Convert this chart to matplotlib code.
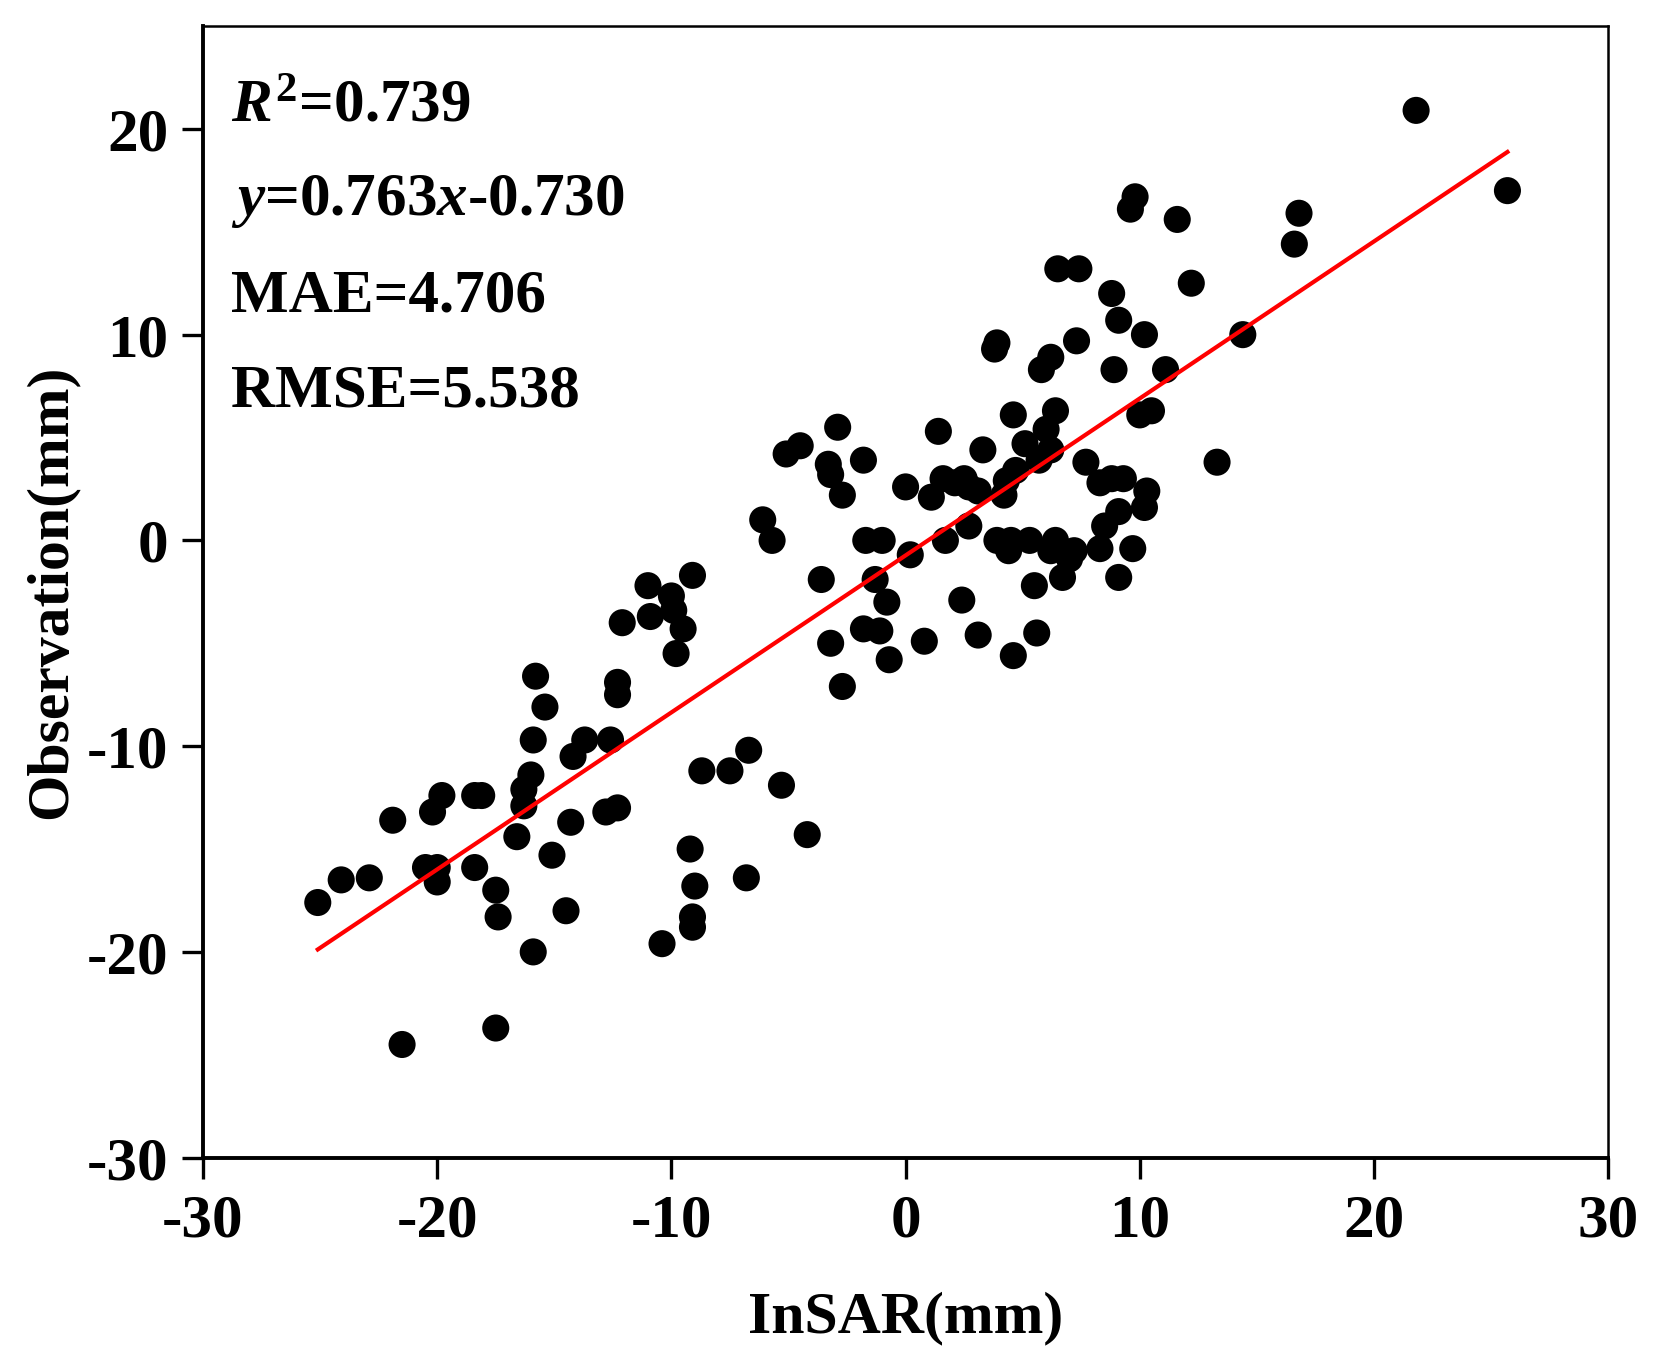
import matplotlib

matplotlib.use("Agg")
import matplotlib.pyplot as plt
import numpy as np

plt.rcParams["font.family"] = ["Liberation Serif", "DejaVu Serif"]
plt.rcParams["font.weight"] = "bold"
plt.rcParams["axes.unicode_minus"] = False
plt.rcParams["mathtext.fontset"] = "custom"
plt.rcParams["mathtext.rm"] = "Liberation Serif:bold"
plt.rcParams["mathtext.it"] = "Liberation Serif:italic:bold"
plt.rcParams["mathtext.bf"] = "Liberation Serif:bold"

insar = [
    -25.1, -24.1, -22.9, -21.9, -21.5, -20.5, -20.2, -19.8, -20.0, -20.0,
    -18.4, -18.1, -18.4, -17.5, -17.4, -17.5, -16.6, -16.3, -16.3, -16.0,
    -15.9, -15.8, -15.9, -15.4, -15.1, -14.5, -14.3, -14.2, -13.7, -12.8,
    -12.6, -12.3, -12.3, -12.3, -12.1, -11.0, -10.9, -10.4, -10.0, -9.9,
    -9.8, -9.5, -9.1, -9.2, -9.0, -9.1, -9.1, -8.7, -7.5, -6.8,
    -6.7, -6.1, -5.7, -5.3, -5.1, -4.5, -4.2, -3.6, -3.3, -3.2,
    -3.2, -2.9, -2.7, -2.7, -1.8, -1.7, -1.8, -1.3, -1.0, -1.1,
    -0.8, -0.7, 0.0, 0.2, 0.8, 1.1, 1.4, 1.6, 1.7, 2.1,
    2.5, 2.4, 2.7, 2.7, 3.1, 3.1, 3.3, 3.8, 3.9, 3.9,
    4.2, 4.4, 4.3, 4.5, 4.6, 4.6, 4.7, 5.1, 5.3, 5.5,
    5.6, 5.7, 5.8, 6.0, 6.2, 6.2, 6.2, 6.4, 6.4, 6.5,
    6.7, 7.0, 7.2, 7.3, 7.4, 7.7, 8.3, 8.3, 8.5, 8.8,
    8.9, 8.8, 9.1, 9.1, 9.1, 9.3, 9.6, 9.8, 9.7, 10.0,
    10.2, 10.2, 10.3, 10.5, 11.1, 11.6, 12.2, 13.3, 14.4, 16.6,
    16.8, 21.8, 25.7,
]
observation = [
    -17.6, -16.5, -16.4, -13.6, -24.5, -15.9, -13.2, -12.4, -15.9, -16.6,
    -12.4, -12.4, -15.9, -17.0, -18.3, -23.7, -14.4, -12.1, -12.9, -11.4,
    -9.7, -6.6, -20.0, -8.1, -15.3, -18.0, -13.7, -10.5, -9.7, -13.2,
    -9.7, -13.0, -7.5, -6.9, -4.0, -2.2, -3.7, -19.6, -2.7, -3.4,
    -5.5, -4.3, -1.7, -15.0, -16.8, -18.3, -18.8, -11.2, -11.2, -16.4,
    -10.2, 1.0, 0.0, -11.9, 4.2, 4.6, -14.3, -1.9, 3.7, 3.2,
    -5.0, 5.5, 2.2, -7.1, 3.9, 0.0, -4.3, -1.9, 0.0, -4.4,
    -3.0, -5.8, 2.6, -0.7, -4.9, 2.1, 5.3, 3.0, 0.0, 2.8,
    3.0, -2.9, 2.6, 0.7, 2.4, -4.6, 4.4, 9.3, 9.6, 0.0,
    2.2, -0.5, 2.9, 0.0, -5.6, 6.1, 3.4, 4.7, 0.0, -2.2,
    -4.5, 3.9, 8.3, 5.4, 8.9, 4.4, -0.5, 6.3, 0.0, 13.2,
    -1.8, -0.9, -0.5, 9.7, 13.2, 3.8, 2.8, -0.4, 0.7, 12.0,
    8.3, 3.0, -1.8, 10.7, 1.4, 3.0, 16.1, 16.7, -0.4, 6.1,
    10.0, 1.6, 2.4, 6.3, 8.3, 15.6, 12.5, 3.8, 10.0, 14.4,
    15.9, 20.9, 17.0,
]

slope = 0.763
intercept = -0.730
stats_lines = [
    r"$R^{2}$=0.739",
    r"$y$=0.763$x$-0.730",
    "MAE=4.706",
    "RMSE=5.538",
]
x_ticks = [-30, -20, -10, 0, 10, 20, 30]
y_ticks = [-30, -20, -10, 0, 10, 20]


def main() -> None:
    fig = plt.figure(figsize=(16.56, 13.70), dpi=100)
    ax = fig.add_axes([0.1226, 0.155, 0.8485, 0.826])

    ax.scatter(insar, observation, s=380, color="black", edgecolors="none", zorder=2)

    x_fit = np.array([min(insar), max(insar)])
    ax.plot(x_fit, slope * x_fit + intercept, color="red", lw=3.0, zorder=3)

    ax.set_xlim(-30, 30)
    ax.set_ylim(-30, 25)
    ax.set_xticks(x_ticks)
    ax.set_yticks(y_ticks)
    ax.tick_params(direction="out", length=15, width=2.4, labelsize=44)
    ax.tick_params(axis="x", pad=11)
    ax.tick_params(axis="y", pad=10)
    for lab in ax.get_xticklabels() + ax.get_yticklabels():
        lab.set_fontweight("bold")

    for side in ("left", "bottom"):
        ax.spines[side].set_linewidth(2.8)
    for side in ("top", "right"):
        ax.spines[side].set_linewidth(1.8)

    ax.set_xlabel("InSAR(mm)", fontsize=43, fontweight="bold", labelpad=30)
    ax.set_ylabel("Observation(mm)", fontsize=43, fontweight="bold", labelpad=6)

    y_pos = [0.929, 0.845, 0.761, 0.677]
    for text, yp in zip(stats_lines, y_pos):
        ax.text(0.02, yp, text, transform=ax.transAxes, fontsize=44,
                fontweight="bold", va="center", ha="left")

    fig.savefig("out.png", dpi=100)
    plt.close(fig)


if __name__ == "__main__":
    main()
